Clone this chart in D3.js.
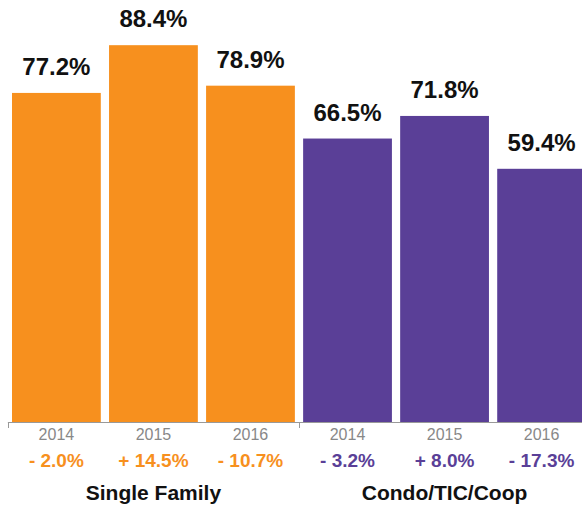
<!DOCTYPE html>
<html>
<head>
<meta charset="utf-8">
<script src="https://cdn.jsdelivr.net/npm/d3@7"></script>
<style>
  html, body { margin: 0; padding: 0; background: #fff; }
  svg { display: block; font-family: "Liberation Sans", Arial, Helvetica, sans-serif; }
</style>
</head>
<body>
<div id="chart"></div>
<script>
const groups = ['Single Family', 'Condo/TIC/Coop'];
const years = ['2014', '2015', '2016'];
const singleFamily = [77.2, 88.4, 78.9];
const condo = [66.5, 71.8, 59.4];
const singleFamilyChange = [-2.0, 14.5, -10.7];
const condoChange = [-3.2, 8.0, -17.3];

const colors = ['#F7901E', '#5A3F97'];

const width = 582, height = 510;
const baseline = 422;

// flatten into one row per bar
const rows = [];
[singleFamily, condo].forEach((vals, g) => {
    const changes = g === 0 ? singleFamilyChange : condoChange;
    vals.forEach((v, i) => {
        rows.push({group: g, year: years[i], value: v, change: changes[i], key: g + '-' + i});
    });
});

const x = d3.scaleBand()
    .domain(rows.map((d) => d.key))
    .range([12, 586])
    .paddingInner(0.085)
    .paddingOuter(0);
const y = d3.scaleLinear()
    .domain([0, 99])
    .range([baseline, 0]);

const svg = d3.select('#chart').append('svg')
    .attr('width', width)
    .attr('height', height);

const gap = x.step() - x.bandwidth();

// axis line with ticks at group boundaries
const ticks = [x(rows[0].key) - gap / 2, x(rows[3].key) - gap / 2];
svg.append('line')
    .attr('x1', ticks[0]).attr('x2', width)
    .attr('y1', baseline + 0.5).attr('y2', baseline + 0.5)
    .attr('stroke', '#999').attr('stroke-width', 1);
svg.selectAll('line.tick')
    .data(ticks)
    .enter().append('line')
    .attr('class', 'tick')
    .attr('x1', (d) => Math.round(d) + 0.5).attr('x2', (d) => Math.round(d) + 0.5)
    .attr('y1', baseline).attr('y2', baseline + 6)
    .attr('stroke', '#999');

svg.selectAll('rect.bar')
    .data(rows)
    .enter().append('rect')
    .attr('class', 'bar')
    .attr('x', (d) => x(d.key))
    .attr('width', x.bandwidth())
    .attr('y', (d) => y(d.value))
    .attr('height', (d) => baseline - y(d.value))
    .attr('fill', (d) => colors[d.group]);

svg.selectAll('text.val')
    .data(rows)
    .enter().append('text')
    .attr('class', 'val')
    .attr('x', (d) => x(d.key) + x.bandwidth() / 2)
    .attr('y', (d) => y(d.value) - 18)
    .attr('text-anchor', 'middle')
    .attr('font-size', 24)
    .attr('font-weight', 'bold')
    .attr('fill', '#111')
    .text((d) => d.value.toFixed(1) + '%');

svg.selectAll('text.year')
    .data(rows)
    .enter().append('text')
    .attr('class', 'year')
    .attr('x', (d) => x(d.key) + x.bandwidth() / 2)
    .attr('y', 440)
    .attr('text-anchor', 'middle')
    .attr('font-size', 16)
    .attr('fill', '#888')
    .text((d) => d.year);

svg.selectAll('text.chg')
    .data(rows)
    .enter().append('text')
    .attr('class', 'chg')
    .attr('x', (d) => x(d.key) + x.bandwidth() / 2)
    .attr('y', 467)
    .attr('text-anchor', 'middle')
    .attr('font-size', 19)
    .attr('font-weight', 'bold')
    .attr('fill', (d) => colors[d.group])
    .text((d) => (d.change < 0 ? '- ' : '+ ') + Math.abs(d.change).toFixed(1) + '%');

svg.selectAll('text.group')
    .data(groups)
    .enter().append('text')
    .attr('class', 'group')
    .attr('x', (d, g) => (x(rows[g * 3].key) + x(rows[g * 3 + 2].key) + x.bandwidth()) / 2)
    .attr('y', 500)
    .attr('text-anchor', 'middle')
    .attr('font-size', 21)
    .attr('font-weight', 'bold')
    .attr('fill', '#111')
    .text((d) => d);
</script>
</body>
</html>
